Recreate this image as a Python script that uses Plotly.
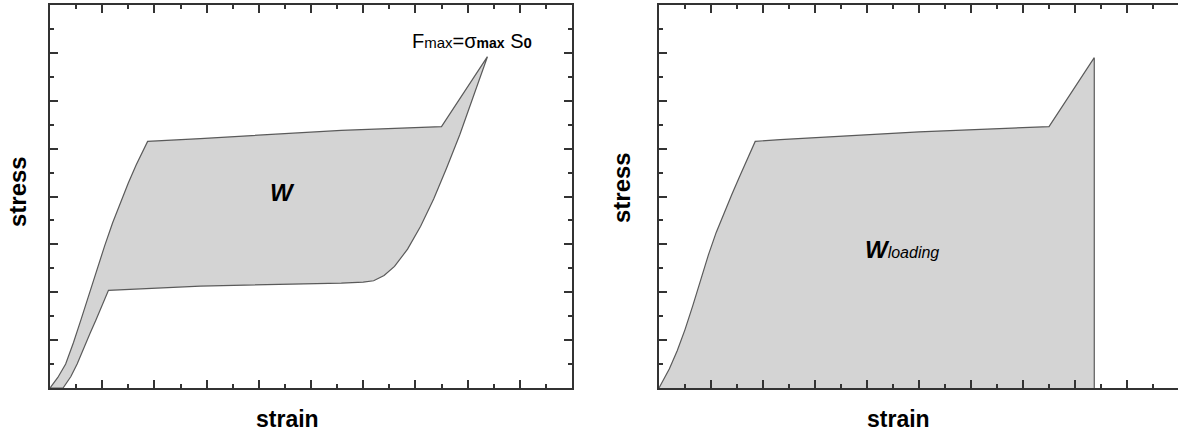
import plotly.graph_objects as go

W, H = 1178, 434

# ---- data (strain, stress in arbitrary units) ----
loop_load_x = [0, 0.15, 0.30, 0.45, 0.60, 0.75, 0.90, 1.05, 1.20, 1.35, 1.50, 1.65, 1.78, 1.87,
               2.88, 5.58, 7.50, 8.38]
loop_load_y = [0, 0.22, 0.50, 0.95, 1.45, 1.97, 2.48, 2.98, 3.45, 3.88, 4.28, 4.66, 4.97, 5.15,
               5.21, 5.38, 5.46, 6.92]
loop_unload_x = [8.38, 8.13, 7.85, 7.60, 7.35, 7.10, 6.85, 6.60, 6.40, 6.20, 6.00, 5.58,
                 2.88, 1.12, 1.00, 0.88, 0.77, 0.65, 0.52, 0.40, 0.25, 0]
loop_unload_y = [6.92, 6.15, 5.29, 4.60, 3.95, 3.38, 2.90, 2.54, 2.35, 2.24, 2.21, 2.19,
                 2.13, 2.04, 1.72, 1.42, 1.15, 0.85, 0.50, 0.24, 0, 0]

load_x = [0, 0.08, 0.20, 0.35, 0.50, 0.65, 0.80, 0.95, 1.10, 1.25, 1.40, 1.55, 1.70, 1.85,
          2.33, 5.0, 7.50, 8.37, 8.37]
load_y = [0, 0.15, 0.40, 0.78, 1.22, 1.72, 2.25, 2.78, 3.25, 3.66, 4.04, 4.42, 4.80, 5.15,
          5.19, 5.35, 5.46, 6.90, 0]

x_range_left = [0, 10]
x_range_right = [0, 9.98]
y_range = [0, 8]

FILL = "#d4d4d4"
EDGE = "#5a5a5a"
AX = "#333333"
FONT = "Liberation Sans, Arial, sans-serif"

fig = go.Figure()
fig.add_trace(go.Scatter(x=loop_load_x + loop_unload_x[1:], y=loop_load_y + loop_unload_y[1:],
                         fill="toself", fillcolor=FILL, mode="lines",
                         line=dict(color=EDGE, width=1.2), xaxis="x", yaxis="y",
                         hoverinfo="skip", showlegend=False))
fig.add_trace(go.Scatter(x=load_x, y=load_y, fill="toself", fillcolor=FILL, mode="lines",
                         line=dict(color=EDGE, width=1.2), xaxis="x2", yaxis="y2",
                         hoverinfo="skip", showlegend=False))

xl0, xl1 = 50 / W, 572 / W
xr0, xr1 = 659 / W, 1.0
y0, y1 = 1 - 388 / H, 1 - 5 / H

common = dict(showgrid=False, zeroline=False, showticklabels=False, ticks="inside",
              ticklen=8, tickwidth=2, tickcolor=AX, showline=True, linewidth=2, linecolor=AX)
minor = dict(dtick=0.5, ticks="inside", ticklen=4, tickwidth=2, tickcolor=AX)

fig.update_layout(
    width=W, height=H, margin=dict(l=0, r=0, t=0, b=0),
    paper_bgcolor="white", plot_bgcolor="white",
    xaxis=dict(domain=[xl0, xl1], range=x_range_left, anchor="y", dtick=1, tick0=0,
               mirror="allticks", minor=minor, **common),
    yaxis=dict(domain=[y0, y1], range=y_range, anchor="x", dtick=1, tick0=0,
               mirror="allticks", minor=minor, **common),
    xaxis2=dict(domain=[xr0, xr1], range=x_range_right, anchor="y2", dtick=1, tick0=0,
                mirror="allticks", minor=minor, **common),
    yaxis2=dict(domain=[y0, y1], range=y_range, anchor="x2", dtick=1, tick0=0,
                mirror=False, minor=minor, **common),
    yaxis3=dict(domain=[y0, y1], range=y_range, anchor="x2", overlaying="y2", side="right",
                dtick=1, tick0=0, showgrid=False, zeroline=False, showticklabels=False,
                ticks="inside", ticklen=6, tickwidth=2, tickcolor=AX, showline=False,
                minor=dict(dtick=0.5, ticks="inside", ticklen=3, tickwidth=2, tickcolor=AX)),
)

def ann(text, x, y, size, angle=0):
    fig.add_annotation(text=text, x=x / W, y=1 - y / H, xref="paper", yref="paper",
                       showarrow=False, textangle=angle, xanchor="center", yanchor="middle",
                       font=dict(family=FONT, size=size, color="black"))

ann("<b>stress</b>", 17, 192, 24, -90)
ann("<b>stress</b>", 621, 188, 24, -90)
ann("<b>strain</b>", 287, 419, 23)
ann("<b>strain</b>", 898, 419, 23)
ann("<b><i>W</i></b>", 282, 192, 24)
ann("<b><i>W</i></b><i><span style='font-size:16px'>loading</span></i>", 902, 249, 24)
ann("F<span style='font-size:15px'>max</span>=σ<b><span style='font-size:14px'>max</span></b> S<b><span style='font-size:15px'>0</span></b>",
    472, 41, 20)

fig.write_html("out.html")
